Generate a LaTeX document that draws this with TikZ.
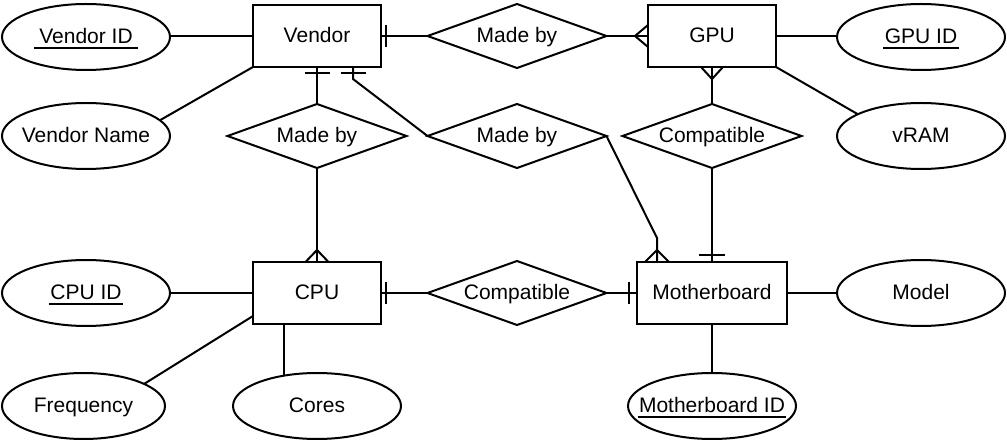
\documentclass[tikz,border=0pt]{standalone}
\usepackage{fontspec}
\setmainfont{Liberation Sans}
\usetikzlibrary{shapes.geometric,calc}
\newsavebox\keybox
\newcommand\keyattr[2][1.5pt]{\sbox\keybox{\hspace{#1}#2\hspace{#1}}\rlap{\vrule height -3.5pt depth 5.5pt width \wd\keybox}\usebox\keybox}
\newcommand\attxt[1]{\makebox[0pt]{#1}}
\begin{document}
\begin{tikzpicture}[x=1pt,y=-1pt,
  ln/.style={line width=2pt},
  ent/.style={draw, ln, rectangle, minimum width=128pt, minimum height=62pt, inner sep=0pt, outer sep=0pt},
  rel/.style={draw, ln, diamond, aspect=2.8, minimum width=179pt, minimum height=64pt, inner sep=0pt, outer sep=0pt},
  att/.style={draw, ln, ellipse, minimum width=168pt, minimum height=66pt, inner sep=0pt, outer sep=0pt},
  every node/.style={font=\fontsize{21}{24}\selectfont, text height=14pt, text depth=0pt}]
\useasboundingbox (0,0) rectangle (1007,443);

% entities
\node[ent] (vendor) at (317,36) {Vendor};
\node[ent] (gpu) at (712,36) {GPU};
\node[ent] (cpu) at (317,293) {CPU};
\node[ent, minimum width=150pt] (mb) at (712,293) {Motherboard};

% relationships
\node[rel] (madeGpu) at (517,36) {Made by};
\node[rel] (madeCpu) at (317,136) {Made by};
\node[rel] (madeMb) at (517,136) {Made by};
\node[rel] (compGpu) at (712,136) {Compatible};
\node[rel] (compCpu) at (517,293) {Compatible};

% attributes
\node[att] (vid) at (86,37) {\attxt{\keyattr[5pt]{Vendor ID}}};
\node[att] (vname) at (86,136) {\attxt{Vendor Name}};
\node[att] (gid) at (921,37) {\attxt{\keyattr{GPU ID}}};
\node[att] (vram) at (921,136) {\attxt{vRAM}};
\node[att] (cid) at (86,293) {\attxt{\keyattr{CPU ID}}};
\node[att, minimum width=163pt] (freq) at (83.5,406) {\attxt{Frequency}};
\node[att] (cores) at (317,406) {\attxt{Cores}};
\node[att] (model) at (921,293) {\attxt{Model}};
\node[att] (mbid) at (712,406) {\attxt{\keyattr{Motherboard ID}}};

% attribute connectors
\draw[ln] (vid.east |- vendor.west) -- (vendor.west);
\draw[ln] (vname.12) -- (vendor.south west);
\draw[ln] (gid.west |- gpu.east) -- (gpu.east);
\draw[ln] (vram.161) -- (gpu.south east);
\draw[ln] (cid.east |- cpu.west) -- (cpu.west);
\coordinate (cpuF) at ($(cpu.south west)+(0,-8)$);
\draw[ln] (freq.20) -- (cpuF);
\draw[ln] (cores.137) -- (cores.137 |- cpu.south);
\draw[ln] (mb.east) -- (model.west |- mb.east);
\draw[ln] (mb.south) -- (mbid.north);

% Vendor - Made by - GPU
\draw[ln] (vendor.east) -- (madeGpu.west);
\draw[ln] ($(vendor.east)+(5,-11)$) -- ++(0,22);
\draw[ln] (madeGpu.east) -- (gpu.west);
\draw[ln] ($(gpu.west)+(0,-11)$) -- ($(gpu.west)+(-13,0)$) -- ($(gpu.west)+(0,11)$);

% Vendor - Made by - CPU
\draw[ln] (vendor.south) -- (madeCpu.north);
\draw[ln] ($(vendor.south)+(-12.5,6)$) -- ++(25,0);
\draw[ln] (madeCpu.south) -- (cpu.north);
\draw[ln] ($(cpu.north)+(-11.5,0)$) -- ($(cpu.north)+(0,-12)$) -- ($(cpu.north)+(11.5,0)$);

% Vendor - Made by - Motherboard
\coordinate (vMb) at ($(vendor.south)+(36,0)$);
\draw[ln] (vMb) -- ++(0,12) -- (madeMb.west);
\draw[ln] ($(vMb)+(-12.5,6)$) -- ++(25,0);
\coordinate (mbTop) at ($(mb.north west)+(20,0)$);
\draw[ln] (madeMb.east) -- (mbTop |- 0,238) -- (mbTop);
\draw[ln] ($(mbTop)+(-12,0)$) -- ($(mbTop)+(0,-12)$) -- ($(mbTop)+(12,0)$);

% GPU - Compatible - Motherboard
\draw[ln] (gpu.south) -- (compGpu.north);
\draw[ln] ($(gpu.south)+(-11,0)$) -- ($(gpu.south)+(0,12)$) -- ($(gpu.south)+(11,0)$);
\draw[ln] (compGpu.south) -- (compGpu.south |- mb.north);
\draw[ln] ($(compGpu.south |- mb.north)+(-13,-7)$) -- ++(26,0);

% CPU - Compatible - Motherboard
\draw[ln] (cpu.east) -- (compCpu.west);
\draw[ln] ($(cpu.east)+(5,-11)$) -- ++(0,22);
\draw[ln] (compCpu.east) -- (compCpu.east -| mb.west);
\draw[ln] ($(compCpu.east -| mb.west)+(-8,-11)$) -- ++(0,22);
\end{tikzpicture}
\end{document}
